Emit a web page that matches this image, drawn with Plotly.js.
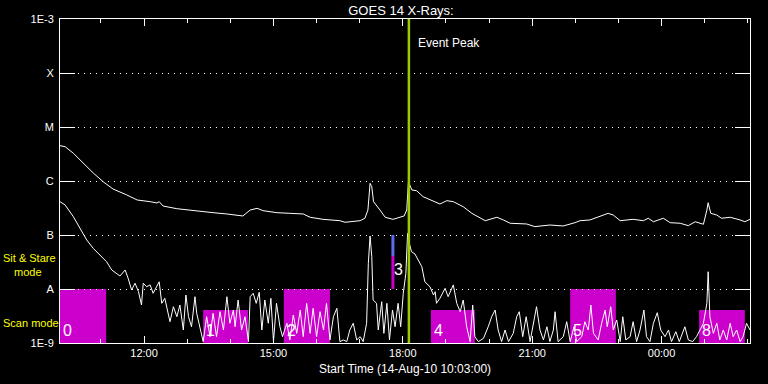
<!DOCTYPE html>
<html>
<head>
<meta charset="utf-8">
<script src="https://cdn.plot.ly/plotly-3.0.1.min.js"></script>
<style>
html,body{margin:0;padding:0;background:#000;}
#chart{width:768px;height:384px;}
</style>
</head>
<body>
<div id="chart"></div>
<script>
// Time in decimal hours from 00:00 on 14-Aug-2010 (values > 24 are on 15-Aug)
const upperTime = [10.05,10.17,10.36,10.58,10.82,11.05,11.28,11.60,11.84,12.14,12.30,12.35,12.44,12.76,13.00,13.30,13.60,13.92,14.11,14.29,14.46,14.62,14.76,15.08,15.38,15.69,15.85,16.15,16.54,16.66,17.01,17.12,17.19,17.24,17.28,17.32,17.47,17.59,17.77,17.93,18.03,18.09,18.13,18.21,18.32,18.47,18.63,18.86,19.02,19.17,19.40,19.60,19.91,20.18,20.33,20.49,20.87,21.06,21.41,21.72,21.99,22.11,22.34,22.57,22.76,22.88,23.04,23.34,23.58,23.69,23.81,24.04,24.20,24.43,24.62,24.78,24.97,25.05,25.08,25.14,25.28,25.39,25.59,25.82,25.93,26.05];
const upperFlux = [4.51e-6,4.31e-6,3.26e-6,2.15e-6,1.41e-6,9.7e-7,7.1e-7,5.51e-7,4.45e-7,4.14e-7,3.92e-7,4.14e-7,3.44e-7,3.07e-7,2.90e-7,2.70e-7,2.59e-7,2.45e-7,2.34e-7,2.25e-7,2.90e-7,3.12e-7,2.82e-7,2.59e-7,2.52e-7,2.45e-7,2.13e-7,1.95e-7,1.84e-7,1.72e-7,1.84e-7,2.04e-7,2.90e-7,9.06e-7,7.83e-7,4.14e-7,2.90e-7,2.13e-7,1.95e-7,2.13e-7,2.25e-7,2.90e-7,9.7e-7,6.81e-7,6.61e-7,5.12e-7,4.45e-7,3.75e-7,4.32e-7,4.14e-7,3.34e-7,2.52e-7,1.84e-7,2.13e-7,1.90e-7,1.65e-7,1.60e-7,1.43e-7,1.53e-7,1.47e-7,1.69e-7,1.84e-7,1.90e-7,2.18e-7,2.52e-7,2.34e-7,1.84e-7,1.95e-7,1.84e-7,2.04e-7,1.76e-7,2.04e-7,1.69e-7,1.65e-7,1.49e-7,1.76e-7,1.58e-7,2.90e-7,3.96e-7,2.52e-7,2.34e-7,2.04e-7,2.13e-7,1.90e-7,1.76e-7,1.95e-7];

const lowerTime = [10.05,10.17,10.36,10.51,10.67,10.82,10.98,11.13,11.25,11.36,
11.44,11.56,11.63,11.71,11.79,11.87,11.94,11.98,12.06,12.14,
12.21,12.35,12.41,12.48,12.60,12.68,12.76,12.83,12.91,12.97,
13.03,13.10,13.18,13.22,13.30,13.37,13.45,13.53,13.60,13.68,
13.76,13.84,13.92,13.99,14.07,14.11,14.18,14.26,14.34,14.42,
14.46,14.53,14.60,14.67,14.73,14.80,14.88,14.94,15.00,15.07,
15.15,15.21,15.31,15.38,15.46,15.54,15.62,15.69,15.77,15.85,
15.92,16.00,16.08,16.16,16.23,16.31,16.39,16.47,16.54,16.62,
16.70,16.77,16.85,16.93,17.01,17.08,17.16,17.20,17.24,17.28,
17.31,17.39,17.43,17.51,17.56,17.63,17.69,17.76,17.82,17.89,
17.95,18.01,18.07,18.11,18.16,18.20,18.28,18.36,18.44,18.51,
18.63,18.71,18.75,18.78,18.86,18.98,19.05,19.17,19.25,19.33,
19.40,19.48,19.56,19.62,19.67,19.75,19.87,19.98,20.06,20.14,
20.21,20.29,20.37,20.45,20.56,20.64,20.70,20.78,20.86,20.95,
21.02,21.10,21.18,21.26,21.34,21.41,21.49,21.53,21.60,21.72,
21.80,21.88,21.97,22.03,22.15,22.22,22.30,22.36,22.42,22.53,
22.61,22.69,22.74,22.82,22.88,22.96,23.04,23.10,23.17,23.27,
23.34,23.42,23.50,23.59,23.65,23.73,23.81,23.90,23.98,24.08,
24.16,24.23,24.33,24.41,24.54,24.62,24.72,24.81,24.89,24.97,
25.05,25.08,25.12,25.20,25.28,25.35,25.43,25.51,25.59,25.66,
25.74,25.82,25.89,25.97,26.05];
const lowerFlux = [4.14e-7,3.59e-7,2.18e-7,1.33e-7,8.08e-8,5.67e-8,4.26e-8,3.20e-8,2.25e-8,1.95e-8,
1.74e-8,2.25e-8,1.58e-8,9.58e-9,1.28e-8,8.91e-9,5.05e-9,1.28e-8,1.10e-8,1.19e-8,
8.32e-9,1.36e-8,5.43e-9,6.73e-9,2.48e-9,4.70e-9,3.07e-9,5.05e-9,1.74e-9,7.74e-9,
3.07e-9,2.00e-9,7.20e-9,3.55e-9,1.74e-9,1.06e-9,3.07e-9,1.31e-9,3.55e-9,1.31e-9,
3.80e-9,1.74e-9,7.20e-9,2.32e-9,4.08e-9,2.00e-9,6.26e-9,1.74e-9,3.07e-9,1.06e-9,
7.20e-9,8.32e-9,5.43e-9,8.69e-9,1.74e-9,6.26e-9,2.32e-9,6.73e-9,1.06e-9,5.43e-9,
2.00e-9,1.31e-9,2.32e-9,1.14e-9,3.30e-9,1.51e-9,4.08e-9,1.31e-9,5.43e-9,1.51e-9,
4.39e-9,1.31e-9,3.80e-9,1.74e-9,5.43e-9,1.14e-9,3.07e-9,4.39e-9,1.06e-9,1.14e-9,
1.06e-9,1.74e-9,2.32e-9,1.14e-9,1.31e-9,1.06e-9,2.32e-9,2.99e-8,9.58e-8,3.96e-8,
6.26e-9,5.43e-9,1.74e-9,5.82e-9,1.51e-9,5.43e-9,1.14e-9,4.08e-9,2.00e-9,5.43e-9,
2.00e-9,8.32e-9,1.95e-8,1.07e-7,6.53e-8,4.91e-8,4.45e-8,3.44e-8,2.59e-8,1.36e-8,
1.10e-8,7.74e-9,8.91e-9,5.43e-9,6.73e-9,1.03e-8,7.20e-9,1.19e-8,5.43e-9,3.80e-9,
6.26e-9,2.00e-9,1.06e-9,5.05e-9,1.31e-9,1.06e-9,1.22e-9,2.00e-9,3.07e-9,4.08e-9,
1.74e-9,1.06e-9,1.74e-9,1.06e-9,1.51e-9,3.07e-9,3.80e-9,1.31e-9,3.07e-9,1.06e-9,
2.32e-9,4.70e-9,1.74e-9,1.14e-9,2.00e-9,1.06e-9,1.74e-9,3.80e-9,1.06e-9,1.31e-9,
2.48e-9,1.06e-9,2.00e-9,1.06e-9,1.31e-9,2.48e-9,1.74e-9,5.05e-9,1.51e-9,1.14e-9,
2.32e-9,4.08e-9,2.00e-9,4.70e-9,1.74e-9,2.67e-9,1.06e-9,3.07e-9,1.14e-9,1.31e-9,
2.48e-9,1.06e-9,1.74e-9,4.08e-9,1.31e-9,1.06e-9,2.32e-9,3.64e-9,1.74e-9,1.31e-9,
1.74e-9,1.06e-9,1.62e-9,1.06e-9,2.00e-9,1.14e-9,1.06e-9,1.31e-9,1.74e-9,2.32e-9,
5.43e-9,2.09e-8,3.07e-9,1.51e-9,2.32e-9,1.14e-9,1.74e-9,1.14e-9,2.32e-9,1.31e-9,
1.74e-9,1.06e-9,1.31e-9,2.32e-9,1.74e-9];

// Scan-mode intervals
const scanStart = [10.05,13.37,15.24,18.65,21.88,24.87];
const scanEnd   = [11.12,14.41,16.31,19.67,22.94,25.93];
const scanTop   = [1e-8,4.08e-9,1e-8,4.08e-9,1e-8,4.08e-9];
const scanLabel = ['0','1','2','4','5','8'];

// Sit & Stare marker
const stareTime = 17.77;
const stareLow = 1e-8, stareMid = 4.08e-8, stareHigh = 1e-7;
const stareLabel = '3';

const eventPeakTime = 18.14;

const yTickVals = [1e-9,1e-8,1e-7,1e-6,1e-5,1e-4,1e-3];
const yTickText = ['1E-9','A','B','C','M','X','1E-3'];
const xTickVals = [12,15,18,21,24];
const xTickText = ['12:00','15:00','18:00','21:00','00:00'];

const FONT = 'Liberation Sans, DejaVu Sans, sans-serif';

const traces = [
  {x: upperTime, y: upperFlux, type:'scatter', mode:'lines', line:{color:'#ffffff', width:1}, hoverinfo:'skip'},
  {x: lowerTime, y: lowerFlux, type:'scatter', mode:'lines', line:{color:'#ffffff', width:1}, hoverinfo:'skip'},
  {x: [stareTime, stareTime], y: [stareLow, stareMid], type:'scatter', mode:'lines', line:{color:'#cc00cc', width:3}, hoverinfo:'skip'},
  {x: [stareTime, stareTime], y: [stareMid, stareHigh], type:'scatter', mode:'lines', line:{color:'#5a6cf0', width:3}, hoverinfo:'skip'},
  {x: [eventPeakTime, eventPeakTime], y: [1e-9, 1e-3], type:'scatter', mode:'lines', line:{color:'#99cc00', width:2.5}, hoverinfo:'skip'}
];

const shapes = scanStart.map((s,i)=>({
  type:'rect', xref:'x', yref:'y', x0:s, x1:scanEnd[i], y0:1e-9, y1:scanTop[i],
  fillcolor:'#cc00cc', line:{width:0}, layer:'below'
}));

const annotations = scanStart.map((s,i)=>({
  xref:'x', yref:'y', x:s, y:-9, xanchor:'left', yanchor:'bottom', xshift:1, yshift:2,
  text:scanLabel[i], showarrow:false, font:{family:FONT, size:16, color:'#ffffff'}
}));
annotations.push({xref:'x', yref:'y', x:stareTime, y:Math.log10(stareMid)-0.25, xanchor:'left', yanchor:'middle', xshift:-1,
  text:stareLabel, showarrow:false, font:{family:FONT, size:16, color:'#ffffff'}});
annotations.push({xref:'x', yref:'paper', x:eventPeakTime, y:(343-43)/324, xanchor:'left', yanchor:'middle', xshift:7,
  text:'Event Peak', showarrow:false, font:{family:FONT, size:12, color:'#ffffff'}});
annotations.push({xref:'paper', yref:'paper', x:(1-60)/690, y:(343-258)/324, xanchor:'left', yanchor:'middle',
  text:'Sit & Stare', showarrow:false, font:{family:FONT, size:11, color:'#ffff00'}});
annotations.push({xref:'paper', yref:'paper', x:(12-60)/690, y:(343-272)/324, xanchor:'left', yanchor:'middle',
  text:'mode', showarrow:false, font:{family:FONT, size:11, color:'#ffff00'}});
annotations.push({xref:'paper', yref:'paper', x:(1-60)/690, y:(343-323)/324, xanchor:'left', yanchor:'middle',
  text:'Scan mode', showarrow:false, font:{family:FONT, size:11, color:'#ffff00'}});
annotations.push({xref:'paper', yref:'paper', x:(405-60)/690, y:-(369-343)/324, xanchor:'center', yanchor:'middle',
  text:'Start Time (14-Aug-10 10:03:00)', showarrow:false, font:{family:FONT, size:12, color:'#ffffff'}});

const layout = {
  width:768, height:384,
  paper_bgcolor:'#000000', plot_bgcolor:'#000000',
  margin:{l:60, r:18, t:19, b:41, pad:0},
  showlegend:false,
  font:{family:FONT, color:'#ffffff', size:11},
  title:{text:'GOES 14 X-Rays:', x:401/768, xanchor:'center', xref:'container', y:1-10/384, yanchor:'middle', yref:'container',
    font:{family:FONT, size:13, color:'#ffffff'}},
  xaxis:{
    type:'linear', range:[10.05, 26.05], tickmode:'array', tickvals:xTickVals, ticktext:xTickText,
    ticks:'inside', ticklen:7, tickwidth:1, tickcolor:'#ffffff',
    minor:{tickmode:'linear', tick0:0, dtick:1, ticks:'inside', ticklen:4, tickcolor:'#ffffff', tickwidth:1, showgrid:false},
    showline:true, linecolor:'#ffffff', linewidth:1, mirror:'ticks',
    showgrid:false, zeroline:false, tickfont:{family:FONT, size:11, color:'#ffffff'}, fixedrange:true
  },
  yaxis:{
    type:'log', range:[-9,-3], tickmode:'array', tickvals:yTickVals, ticktext:yTickText,
    ticks:'inside', ticklen:15, tickwidth:1, tickcolor:'#ffffff',
    showline:true, linecolor:'#ffffff', linewidth:1, mirror:'ticks',
    showgrid:true, gridcolor:'#ffffff', gridwidth:1, griddash:'1px,5px',
    zeroline:false, tickfont:{family:FONT, size:11, color:'#ffffff'}, ticklabelstandoff:3, fixedrange:true
  },
  shapes: shapes,
  annotations: annotations
};

Plotly.newPlot('chart', traces, layout, {staticPlot:true, displayModeBar:false});
</script>
</body>
</html>
